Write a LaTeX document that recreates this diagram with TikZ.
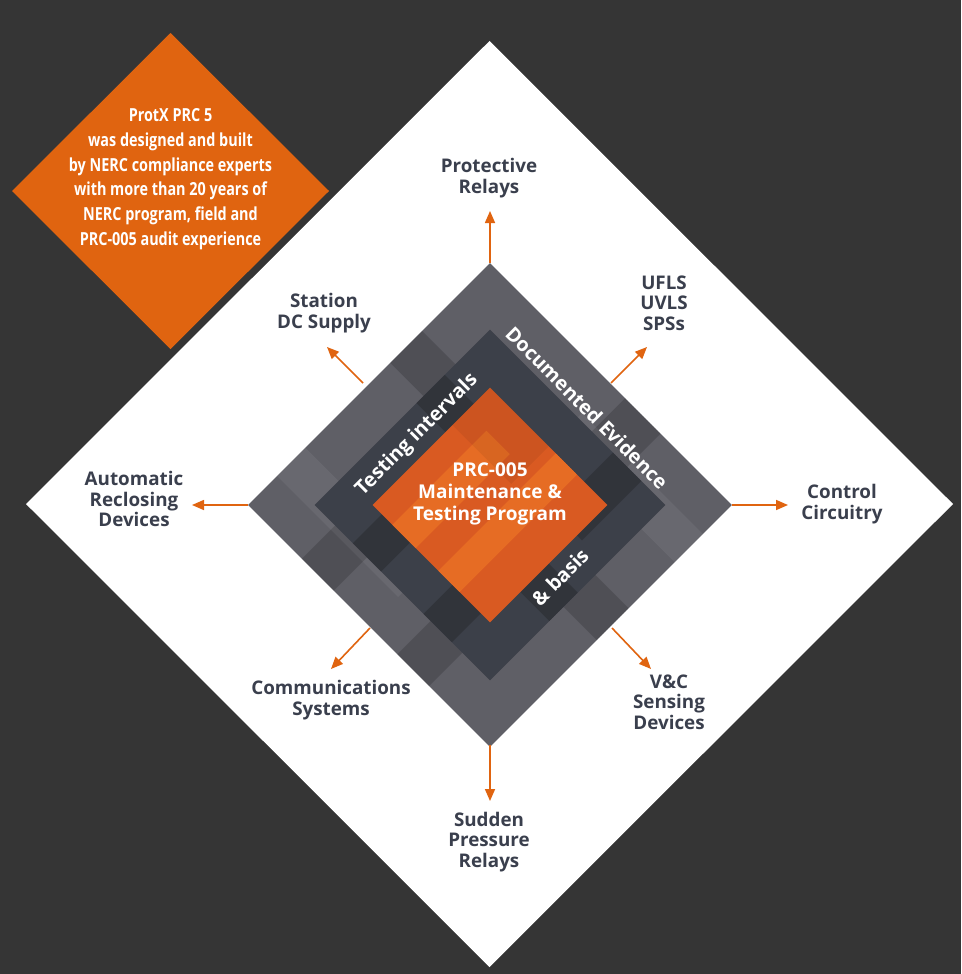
\documentclass[tikz,border=0pt]{standalone}
\usepackage{fontspec}
\setmainfont{Open Sans}
\newfontfamily\condfont{Open Sans}[FakeStretch=0.8]
\usetikzlibrary{arrows.meta}
\definecolor{bgc}{HTML}{353535}
\definecolor{orgc}{HTML}{E06410}
\definecolor{lblc}{HTML}{3A3F4D}
\definecolor{ringA}{HTML}{5F5F66}
\definecolor{ringB}{HTML}{3C4049}
\definecolor{ringC}{HTML}{2E3036}
\definecolor{corec}{HTML}{D95A22}
\definecolor{coreL}{HTML}{E66C24}
\begin{document}
\begin{tikzpicture}[x=1pt,y=-1pt,
  lbl/.style={font=\fontsize{18.8}{20.5}\selectfont\bfseries, text=lblc, align=center, inner sep=0pt},
  arr/.style={draw=orgc, line width=1.6pt, -{Triangle[length=12pt,width=10pt]}},
  rottext/.style={font=\fontsize{19.8}{22}\selectfont\bfseries, text=white, inner sep=0pt},
  dk/.style={fill=black, fill opacity=0.16},
  lt/.style={fill=white, fill opacity=0.06}]
\fill[bgc] (0,0) rectangle (961,974);
\useasboundingbox (0,0) rectangle (961,974);

% big white diamond
\fill[white] (489.5,41) -- (953,504) -- (489.5,967) -- (26,504) -- cycle;

% orange info diamond
\fill[orgc] (170.5,33) -- (329,191) -- (170.5,349) -- (12,191) -- cycle;
\node[font=\condfont\fontsize{18}{24.7}\selectfont\bfseries, text=white, align=center, inner sep=0pt]
  (info) at (170.5,179) {ProtX PRC 5\\was designed and built\\by NERC compliance experts\\with more than 20 years of\\NERC program, field and\\PRC-005 audit experience};

% central layered diamond, in a frame rotated by 45 degrees
\begin{scope}[shift={(490,505)}, rotate=45]
  \fill[ringA] (-171,-171) rectangle (171,171);
  \begin{scope}
    \clip (-171,-171) rectangle (171,171);
    \fill[dk] (-171,-95) rectangle (-30,-50);
    \fill[dk] (30,-171) rectangle (75,-30);
    \fill[dk] (-171,40) rectangle (20,85);
    \fill[dk] (60,20) rectangle (171,70);
    \fill[lt] (-130,-171) rectangle (-90,0);
    \fill[lt] (90,0) rectangle (130,171);
    \fill[dk] (-20,110) rectangle (25,171);
  \end{scope}
  \fill[ringB] (-124,-124) rectangle (124,124);
  \begin{scope}
    \clip (-124,-124) rectangle (124,124);
    \fill[ringC, opacity=0.75] (-124,-70) rectangle (0,-30);
    \fill[ringC, opacity=0.75] (20,-124) rectangle (60,10);
    \fill[ringC, opacity=0.75] (-124,30) rectangle (-20,70);
    \fill[ringC, opacity=0.75] (40,50) rectangle (124,90);
    \fill[ringC, opacity=0.75] (-40,70) rectangle (0,124);
  \end{scope}
  \fill[corec] (-83,-83) rectangle (83,83);
  \begin{scope}
    \clip (-83,-83) rectangle (83,83);
    \fill[coreL] (-83,-55) rectangle (50,-22);
    \fill[coreL] (-83,10) rectangle (83,40);
    \fill[black, opacity=0.06] (30,-83) rectangle (83,0);
  \end{scope}
\end{scope}

% named anchor points of the central diamond
\coordinate (gT) at (490,263);
\coordinate (gB) at (490,745);
\coordinate (gL) at (248,505);
\coordinate (gR) at (732,505);
\coordinate (gNW) at (363,383);
\coordinate (gNE) at (611,383);
\coordinate (gSW) at (370,628);
\coordinate (gSE) at (612,628);
% arrow tips
\coordinate (tT) at (490,211);
\coordinate (tB) at (490,801);
\coordinate (tL) at (192,505);
\coordinate (tR) at (788,505);
\coordinate (tNW) at (327,347);
\coordinate (tNE) at (647,347);
\coordinate (tSW) at (331,669);
\coordinate (tSE) at (651,669);

% central texts
\node[font=\fontsize{19}{22}\selectfont\bfseries, text=white, align=center, inner sep=0pt]
  (core) at (490,494) {PRC-005\\Maintenance \&\\Testing Program};
\node[rottext, rotate=45] (ti) at (417,435) {Testing intervals};
\node[rottext, rotate=-45] (de) at (587,408) {Documented Evidence};
\node[rottext, rotate=45] (ba) at (560,577) {\& basis};

% outer labels
\node[lbl] (pr) at (489,178) {Protective\\Relays};
\node[lbl] (sd) at (324,313) {Station\\DC Supply};
\node[lbl] (uf) at (664,303) {UFLS\\UVLS\\SPSs};
\node[lbl] (ar) at (134,499) {Automatic\\Reclosing\\Devices};
\node[lbl] (cc) at (842,504) {Control\\Circuitry};
\node[lbl] (cs) at (331,700) {Communications\\Systems};
\node[lbl] (vc) at (669,702) {V\&C\\Sensing\\Devices};
\node[lbl] (sp) at (489,842) {Sudden\\Pressure\\Relays};

% arrows
\draw[arr] (gT) -- (tT);
\draw[arr] (gB) -- (tB);
\draw[arr] (gL) -- (tL);
\draw[arr] (gR) -- (tR);
\draw[arr] (gNW) -- (tNW);
\draw[arr] (gNE) -- (tNE);
\draw[arr] (gSW) -- (tSW);
\draw[arr] (gSE) -- (tSE);
\end{tikzpicture}
\end{document}
